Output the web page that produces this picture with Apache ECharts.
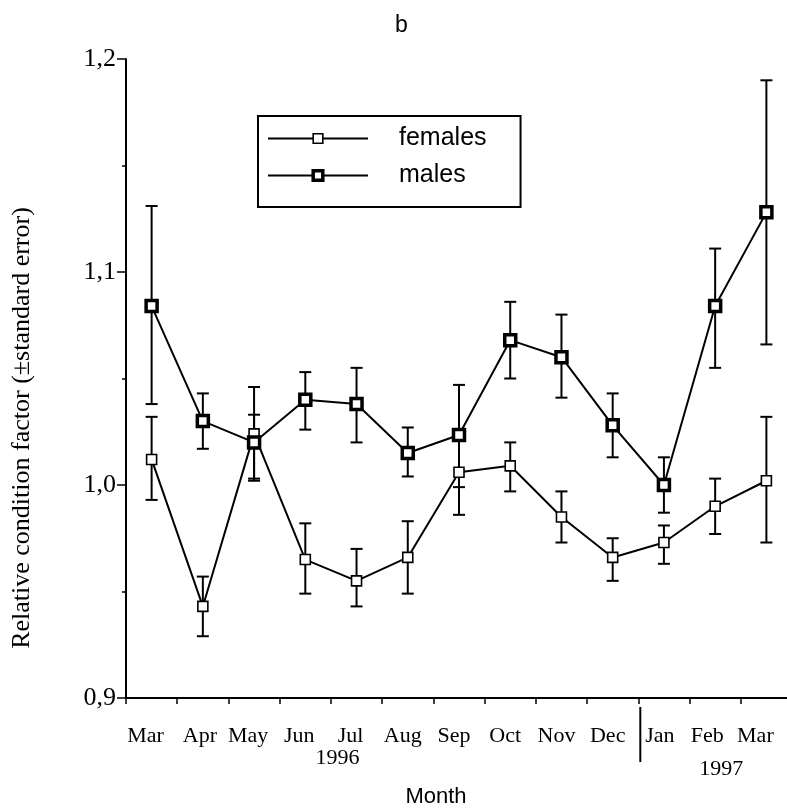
<!DOCTYPE html>
<html>
<head>
<meta charset="utf-8">
<script src="https://cdn.jsdelivr.net/npm/echarts@6/dist/echarts.min.js"></script>
<style>html,body{margin:0;padding:0;background:#fff;}#c{width:787px;height:810px;}</style>
</head>
<body>
<div id="c"></div>
<script>
// ---- data ----
const months = ['Mar','Apr','May','Jun','Jul','Aug','Sep','Oct','Nov','Dec','Jan','Feb','Mar'];
const yearLabels = ['1996', '1997'];
const yearAtIndex = [4, 11];
const yTicks = [0.9, 1.0, 1.1, 1.2];

const females     = [1.012, 0.943, 1.024, 0.965, 0.955, 0.966, 1.006, 1.009, 0.985, 0.966, 0.973, 0.990, 1.002];
const femalesLow  = [0.993, 0.929, 1.003, 0.949, 0.943, 0.949, 0.986, 0.997, 0.973, 0.955, 0.963, 0.977, 0.973];
const femalesHigh = [1.032, 0.957, 1.033, 0.982, 0.970, 0.983, 1.026, 1.020, 0.997, 0.975, 0.981, 1.003, 1.032];

const males       = [1.084, 1.030, 1.020, 1.040, 1.038, 1.015, 1.0235, 1.068, 1.060, 1.028, 1.000, 1.084, 1.128];
const malesLow    = [1.038, 1.017, 1.002, 1.026, 1.020, 1.004, 0.999, 1.050, 1.041, 1.013, 0.987, 1.055, 1.066];
const malesHigh   = [1.131, 1.043, 1.046, 1.053, 1.055, 1.027, 1.047, 1.086, 1.080, 1.043, 1.013, 1.111, 1.190];

// ---- styling ----
const SERIF = '"Liberation Serif", "Times New Roman", serif';
const SANS = '"Liberation Sans", Arial, sans-serif';
const labelNudge = [-6, -3, -6, -6, -6, -5, -5, -5, -5, -5, -4, -8, -11];
const yearOffset = [[-19, 60], [6, 71]];

function errData(lo, hi) { return lo.map((l, i) => [i, l, hi[i]]); }

function errRender(params, api) {
  const i = api.value(0);
  const lo = api.coord([i, api.value(1)]);
  const hi = api.coord([i, api.value(2)]);
  const cap = 6;
  const st = { stroke: '#000', lineWidth: 2 };
  return {
    type: 'group',
    children: [
      { type: 'line', shape: { x1: lo[0], y1: lo[1], x2: hi[0], y2: hi[1] }, style: st },
      { type: 'line', shape: { x1: lo[0] - cap, y1: lo[1], x2: lo[0] + cap, y2: lo[1] }, style: st },
      { type: 'line', shape: { x1: hi[0] - cap, y1: hi[1], x2: hi[0] + cap, y2: hi[1] }, style: st }
    ]
  };
}

const rich = {};
labelNudge.forEach((s, i) => {
  rich['m' + i] = {
    fontFamily: SERIF, fontSize: 22, color: '#000', lineHeight: 24,
    padding: s >= 0 ? [0, 0, 0, 2 * s] : [0, -2 * s, 0, 0]
  };
});

const femaleStyle = { color: '#fff', borderColor: '#000', borderWidth: 1.6 };
const maleStyle = { color: '#fff', borderColor: '#000', borderWidth: 3.5 };

const chart = echarts.init(document.getElementById('c'), null, { renderer: 'canvas' });
chart.setOption({
  animation: false,
  backgroundColor: '#fff',
  title: {
    text: 'b', left: 390, top: 9,
    textStyle: { fontFamily: SANS, fontSize: 23, fontWeight: 'normal', color: '#000' }
  },
  legend: {
    orient: 'vertical', left: 258, top: 116,
    borderColor: '#000', borderWidth: 2,
    padding: [10, 34, 19, 9],
    itemWidth: 100, itemHeight: 12, itemGap: 12,
    textStyle: { fontFamily: SANS, fontSize: 25, color: '#000', lineHeight: 24, padding: [0, 0, 0, 26] },
    data: [
      { name: 'females', itemStyle: femaleStyle },
      { name: 'males', itemStyle: maleStyle }
    ]
  },
  grid: { left: 126, top: 59, width: 666, bottom: 112, containLabel: false, outerBoundsMode: 'none' },
  xAxis: {
    type: 'category', data: months, boundaryGap: true,
    axisLine: { lineStyle: { color: '#000', width: 2 } },
    axisTick: { show: true, length: 6, lineStyle: { color: '#000', width: 1.5 } },
    axisLabel: {
      margin: 26, interval: 0,
      formatter: function (v, i) { return '{m' + i + '|' + v + '}'; },
      rich: rich
    },
    name: 'Month', nameLocation: 'middle', nameGap: 88,
    nameTextStyle: { fontFamily: SANS, fontSize: 22, color: '#000', padding: [0, 46, 0, 0] },
    splitLine: { show: false }
  },
  yAxis: {
    type: 'value', min: yTicks[0], max: yTicks[yTicks.length - 1], interval: 0.1,
    axisLine: { show: true, lineStyle: { color: '#000', width: 2 } },
    axisTick: { show: true, length: 9, lineStyle: { color: '#000', width: 1.5 } },
    minorTick: { show: true, splitNumber: 2, length: 4, lineStyle: { color: '#000', width: 1.5 } },
    axisLabel: {
      margin: 10, fontFamily: SERIF, fontSize: 26, color: '#000',
      formatter: v => v.toFixed(1).replace('.', ',')
    },
    splitLine: { show: false }
  },
  series: [
    {
      type: 'custom', name: 'femalesErr', renderItem: errRender,
      data: errData(femalesLow, femalesHigh), z: 1, silent: true
    },
    {
      type: 'custom', name: 'malesErr', renderItem: errRender,
      data: errData(malesLow, malesHigh), z: 1, silent: true
    },
    {
      type: 'line', name: 'females', data: females, z: 3,
      symbol: 'rect', symbolSize: 10, showAllSymbol: true,
      lineStyle: { color: '#000', width: 2 },
      itemStyle: femaleStyle
    },
    {
      type: 'line', name: 'males', data: males, z: 4,
      symbol: 'rect', symbolSize: 11, showAllSymbol: true,
      lineStyle: { color: '#000', width: 2 },
      itemStyle: maleStyle
    }
  ]
});

// decorations placed through the axis scales
const pDec = chart.convertToPixel({ xAxisIndex: 0 }, 9);
const pJan = chart.convertToPixel({ xAxisIndex: 0 }, 10);
const pBase = chart.convertToPixel({ yAxisIndex: 0 }, yTicks[0]);
const sepX = (pDec + pJan) / 2 + 2;
const graphics = [{
  type: 'text', x: 22, y: 428, rotation: Math.PI / 2,
  style: {
    text: 'Relative condition factor (±standard error)',
    fontFamily: SERIF, fontSize: 26, fill: '#000',
    textAlign: 'center', textVerticalAlign: 'middle'
  }
}, {
  type: 'line', shape: { x1: sepX, y1: pBase + 9, x2: sepX, y2: pBase + 64 },
  style: { stroke: '#000', lineWidth: 2 }
}];
yearLabels.forEach((t, k) => {
  const px = chart.convertToPixel({ xAxisIndex: 0 }, yearAtIndex[k]);
  graphics.push({
    type: 'text', x: px + yearOffset[k][0], y: pBase + yearOffset[k][1],
    style: { text: t, fontFamily: SERIF, fontSize: 22, fill: '#000', textAlign: 'center', textVerticalAlign: 'middle' }
  });
});
chart.setOption({ graphic: graphics });
</script>
</body>
</html>
